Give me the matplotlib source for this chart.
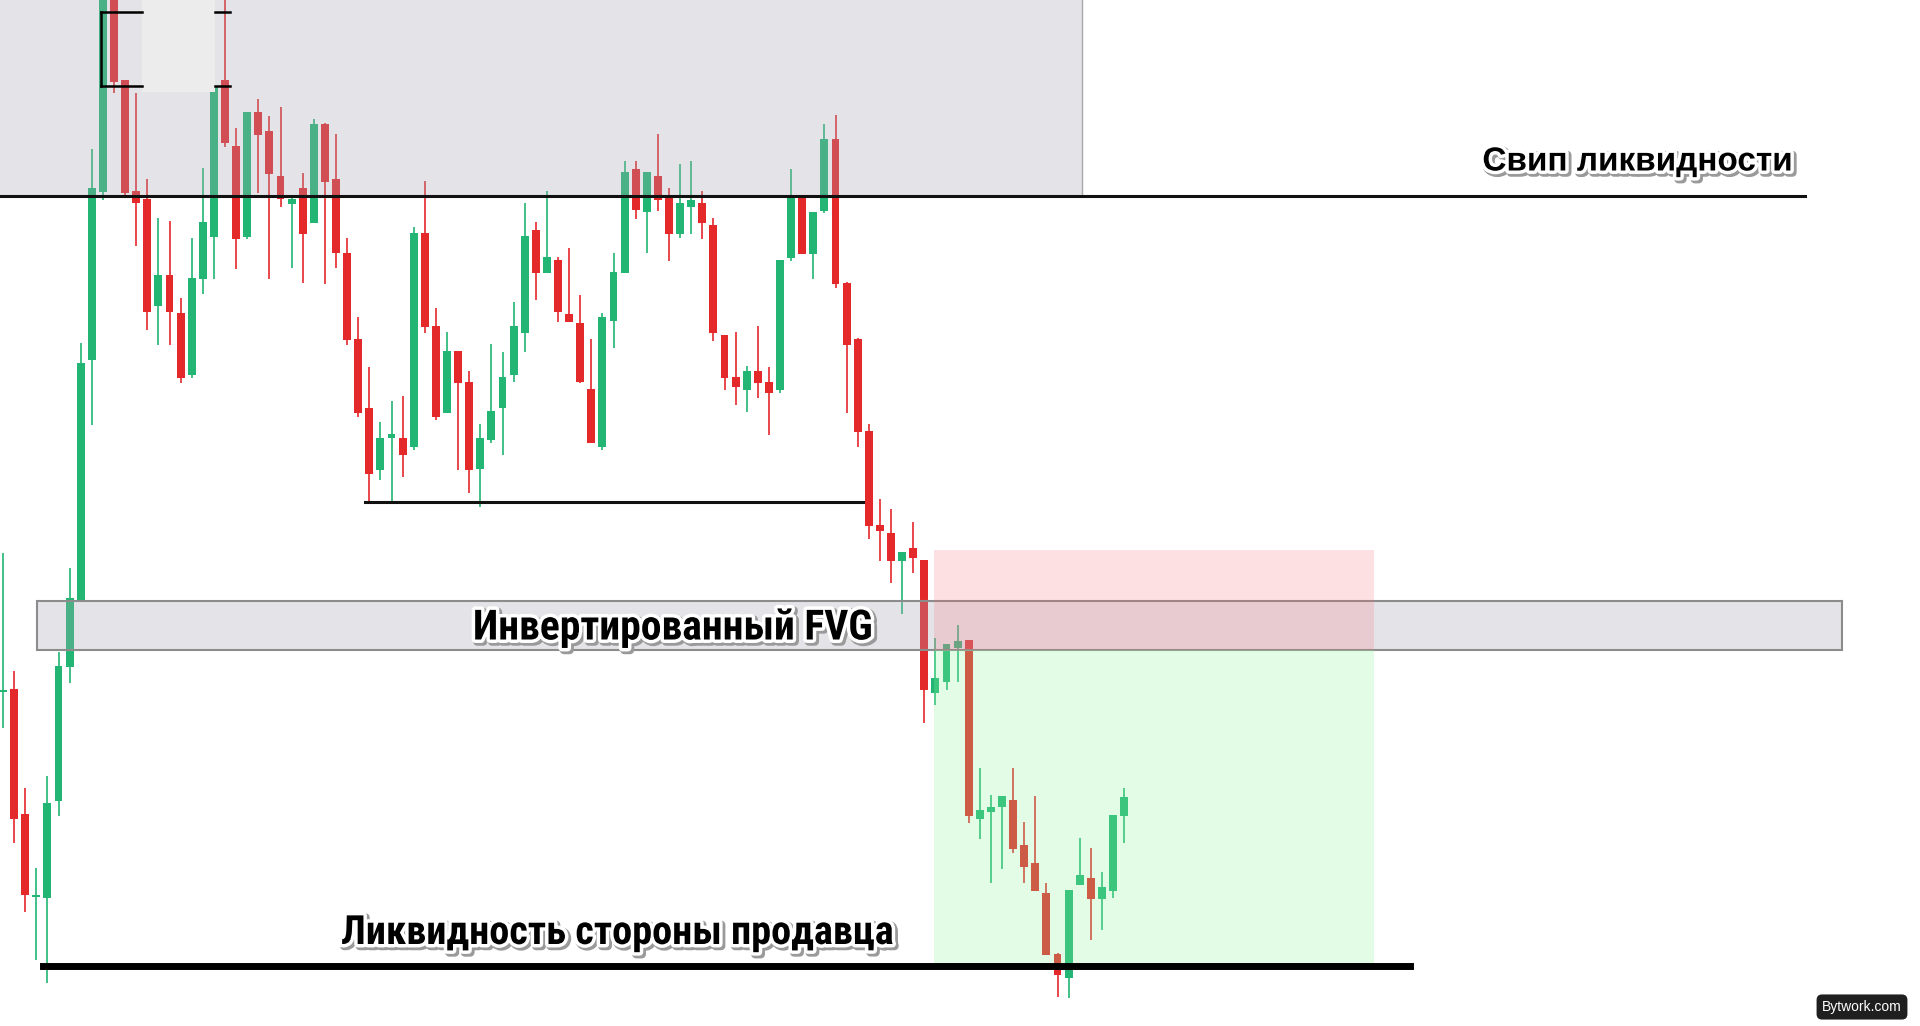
import matplotlib
matplotlib.use('Agg')
import matplotlib.pyplot as plt
from matplotlib.patches import Rectangle
import matplotlib.patheffects as pe

# OHLC (arbitrary price units)
opens = [334, 337, 212, 129, 128, 225, 359, 426, 666, 834,
         1036, 946, 835, 827, 720, 751, 713, 651, 747, 789,
         946, 880, 789, 914, 895, 850, 822, 838, 803, 902,
         847, 773, 687, 618, 556, 588, 588, 579, 793, 700,
         613, 675, 644, 557, 586, 618, 651, 693, 796, 753,
         766, 712, 703, 637, 579, 705, 753, 857, 814, 850,
         828, 792, 819, 823, 801, 691, 649, 636, 655, 644,
         636, 768, 829, 772, 815, 887, 743, 687, 595, 501,
         493, 465, 478, 466, 333, 344, 378, 386, 207, 214,
         219, 226, 181, 163, 133, 72, 48, 141, 148, 127,
         135, 210]
highs = [473, 355, 238, 158, 250, 374, 458, 683, 877, 1056,
         1051, 946, 933, 847, 808, 805, 728, 788, 858, 950,
         1026, 898, 914, 927, 910, 919, 829, 853, 907, 903,
         892, 788, 709, 659, 604, 625, 630, 799, 845, 718,
         694, 675, 655, 602, 682, 674, 724, 823, 804, 835,
         769, 778, 731, 687, 713, 773, 865, 865, 854, 892,
         838, 862, 865, 835, 808, 691, 694, 660, 700, 659,
         766, 857, 829, 814, 902, 911, 744, 688, 602, 527,
         517, 474, 504, 466, 388, 382, 401, 386, 258, 231,
         230, 258, 204, 230, 143, 73, 136, 188, 178, 154,
         211, 238]
lows = [298, 183, 114, 66, 43, 210, 343, 424, 601, 826,
        933, 829, 780, 696, 681, 681, 643, 648, 732, 747,
        879, 757, 787, 833, 747, 819, 758, 743, 803, 742,
        758, 681, 609, 523, 546, 523, 549, 576, 693, 606,
        613, 556, 533, 519, 583, 571, 644, 674, 726, 753,
        704, 704, 643, 583, 576, 678, 753, 807, 773, 815,
        765, 788, 792, 787, 685, 636, 621, 614, 628, 591,
        633, 765, 772, 747, 813, 738, 613, 579, 487, 465,
        443, 412, 453, 303, 321, 336, 344, 203, 187, 143,
        157, 173, 143, 135, 71, 29, 28, 141, 86, 96,
        128, 183]
closes = [336, 207, 131, 131, 223, 360, 428, 663, 838, 1046,
          944, 833, 823, 714, 751, 714, 648, 748, 804, 940,
          883, 787, 914, 891, 852, 827, 827, 792, 902, 844,
          773, 686, 613, 552, 588, 592, 571, 793, 699, 609,
          675, 643, 556, 588, 615, 649, 700, 790, 753, 769,
          714, 704, 644, 583, 709, 754, 854, 816, 854, 826,
          792, 823, 826, 803, 693, 648, 639, 655, 643, 633,
          766, 830, 772, 814, 887, 742, 681, 594, 500, 495,
          465, 474, 468, 336, 348, 382, 385, 210, 216, 219,
          230, 177, 159, 135, 71, 51, 136, 151, 127, 139,
          211, 229]

sweep_level = 830
low_level = 524
fvg_top, fvg_bottom = 425, 376
stop_level, entry_level, target_level = 476, 376, 62
sell_liq_level = 60

label_sweep = "Свип ликвидности"
label_fvg = "Инвертированный FVG"
label_sell = "Ликвидность стороны продавца"

GREEN = '#22b573'
RED = '#e4292b'


def px(x):
    # picture column -> candle index
    return (x - 3) / 11.1


def py(y):
    # picture row -> price
    return 1026 - y


fig = plt.figure(figsize=(19.2, 10.26), dpi=100)
ax = fig.add_axes([0, 0, 1, 1])
ax.set_xlim(px(0), px(1920))
ax.set_ylim(0, 1026)
ax.axis('off')

idx = list(range(len(opens)))
cols = [GREEN if c >= o else RED for o, c in zip(opens, closes)]
bottoms = [min(o, c) for o, c in zip(opens, closes)]
heights = [max(abs(c - o), 2.5) for o, c in zip(opens, closes)]

ax.vlines(idx, lows, highs, colors=cols, linewidth=1.2, zorder=2)
ax.bar(idx, heights, bottom=bottoms, width=0.72, color=cols, zorder=2)

# grey zone at the top
ax.add_patch(Rectangle((px(-5), sweep_level), px(1082) - px(-5), 300,
                       facecolor=(0.66, 0.66, 0.7, 0.3), edgecolor='#a8a8a8',
                       linewidth=1, zorder=3))
# odd box left in the top corner
ax.add_patch(Rectangle((px(142), py(92)), px(215) - px(142), 100,
                       facecolor='#ececec', edgecolor='none', zorder=3.5))
ax.plot([px(101), px(101)], [py(12), py(86)], color='black', lw=1.8, zorder=4)
for yy in (12, 86):
    ax.plot([px(101), px(142)], [py(yy), py(yy)], color='black', lw=1.8, zorder=4)
    ax.plot([px(215), px(230)], [py(yy), py(yy)], color='black', lw=1.8, zorder=4)

# FVG box
ax.add_patch(Rectangle((px(37), fvg_bottom), px(1842) - px(37), fvg_top - fvg_bottom,
                       facecolor=(0.66, 0.66, 0.7, 0.3), edgecolor='#8c8c8c',
                       linewidth=1.5, zorder=3))

# trade zones
ax.add_patch(Rectangle((px(934), entry_level), px(1374) - px(934), stop_level - entry_level,
                       facecolor=(0.97, 0.42, 0.44, 0.2), edgecolor='none', zorder=3.2))
ax.add_patch(Rectangle((px(934), target_level), px(1374) - px(934), entry_level - target_level,
                       facecolor=(0.55, 0.97, 0.62, 0.25), edgecolor='none', zorder=3.2))

# levels
ax.plot([px(0), px(1805)], [sweep_level, sweep_level], color='#111111', lw=2.2, zorder=4)
ax.plot([px(365), px(863)], [low_level, low_level], color='#111111', lw=2.2, zorder=4)
ax.plot([px(43), px(1410)], [sell_liq_level, sell_liq_level], color='black', lw=5, zorder=4)

effects = [pe.Stroke(linewidth=6, foreground='#9a9a9a', offset=(1.5, -1.5)),
           pe.Stroke(linewidth=5, foreground='white'), pe.Normal()]
narrow = ['Roboto Condensed', 'DejaVu Sans']

ax.text(px(1638), py(162), label_sweep, ha='center', va='center', fontsize=24,
        fontweight='bold', family=['Liberation Sans', 'DejaVu Sans'],
        path_effects=effects, zorder=5)
ax.text(px(673), py(628), label_fvg, ha='center', va='center', fontsize=30,
        fontweight='bold', family=narrow, path_effects=effects, zorder=5)
ax.text(px(617), py(933), label_sell, ha='center', va='center', fontsize=29,
        fontweight='bold', family=narrow, path_effects=effects, zorder=5)

fig.text(1862 / 1920, 1 - 1007 / 1026, 'Bytwork.com', ha='center', va='center',
         color='white', fontsize=10, family=['Liberation Sans', 'DejaVu Sans'],
         bbox=dict(boxstyle='round,pad=0.4,rounding_size=0.4', fc='#1f1f1f', ec='none'))

fig.savefig('out.png', dpi=100)
